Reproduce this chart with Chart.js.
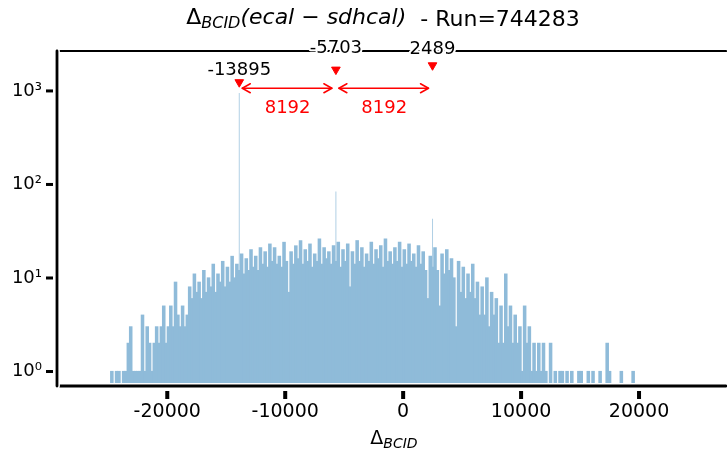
<!DOCTYPE html>
<html><head><meta charset="utf-8">
<script src="https://cdn.jsdelivr.net/npm/chart.js@4.4.0/dist/chart.umd.min.js"></script>
<style>html,body{margin:0;padding:0;background:#fff;overflow:hidden}#wrap{width:727px;height:452px;position:relative}</style>
</head><body><div id="wrap"><canvas id="c" width="727" height="452"></canvas></div>
<script>
// ---- data ----
const BIN_START = -25000;
const BIN_WIDTH = 200;
const counts = [
 0,1,0,1,1,0,1,1,2,3,1,1,1,1,4,1,3,2,1,2,3,2,3,5,2,
 3,5,3,9,4,3,5,3,4,8,6,11,7,9,6,12,7,10,8,14,7,11,9,15,8,
 13,9,17,10,14,12,18,11,16,12,20,13,17,12,21,14,19,13,23,15,21,14,17,13,24,
 15,7,19,14,22,16,25,14,20,15,23,13,18,15,26,14,21,16,19,14,22,15,24,13,20,
 15,23,8,19,14,25,15,21,13,18,15,24,14,20,16,22,13,26,15,19,14,21,15,24,13,
 20,14,23,15,18,13,22,14,19,12,6,17,13,21,12,5,18,11,20,12,16,10,3,15,7,
 13,6,11,7,14,6,9,4,8,4,10,3,7,4,6,2,5,2,11,3,5,2,4,2,3,
 1,5,2,3,1,2,1,2,1,2,1,0,2,0,1,0,1,1,0,1,0,1,0,0,1,
 1,0,0,1,0,1,0,0,1,0,0,2,1,0,0,0,0,1,0,0,0,0,1,0,0
];
const spikeX = [-13895, -5703, 2489];
const spikeCounts = [950, 84, 43];
const markerX = [-13895, -5703, 2489];
const markerY = [1240, 1690, 1880];
const markerLabels = ['-13895', '-5703', '2489'];
const markerLabelY = [1676, 2844, 2805];
const gapLabels = ['8192', '8192'];
const arrowY = 1069;
const gapLabelY = 650;
const xTicks = [-20000, -10000, 0, 10000, 20000];
const yTicks = [1, 10, 100, 1000];
const yTickLabels = ['10\u2070', '10\u00B9', '10\u00B2', '10\u00B3'];
const X_MIN = -29350, X_MAX = 26950, Y_MIN = 0.709, Y_MAX = 2673;

const histData = counts.map((c, i) => ({x: BIN_START + BIN_WIDTH * (i + 0.5), y: c}));
const spikeData = spikeX.map((x, i) => ({x, y: spikeCounts[i]}));
const markerData = markerX.map((x, i) => ({x, y: markerY[i]}));

const FONT = 'DejaVu Sans';

function line(ctx, x1, y1, x2, y2, w) {
  ctx.save();
  ctx.lineCap = 'round';
  ctx.strokeStyle = '#fff'; ctx.lineWidth = w + 3;
  ctx.beginPath(); ctx.moveTo(x1, y1); ctx.lineTo(x2, y2); ctx.stroke();
  ctx.strokeStyle = '#000'; ctx.lineWidth = w;
  ctx.beginPath(); ctx.moveTo(x1, y1); ctx.lineTo(x2, y2); ctx.stroke();
  ctx.restore();
}
function outlinedText(ctx, t, x, y, font, color) {
  ctx.save();
  ctx.font = font; ctx.textAlign = 'center'; ctx.textBaseline = 'middle';
  ctx.lineJoin = 'round'; ctx.strokeStyle = '#fff'; ctx.lineWidth = 4;
  ctx.strokeText(t, x, y);
  ctx.fillStyle = color; ctx.fillText(t, x, y);
  ctx.restore();
}
function richText(ctx, parts, cx) {
  let total = 0;
  parts.forEach(p => { ctx.font = p.font; p.w = ctx.measureText(p.t).width; total += p.w; });
  let x = cx - total / 2;
  ctx.textAlign = 'left'; ctx.textBaseline = 'alphabetic'; ctx.fillStyle = '#000';
  parts.forEach(p => { ctx.font = p.font; ctx.fillText(p.t, x, p.y); x += p.w; });
}
function arrow(ctx, x1, x2, y) {
  ctx.save();
  ctx.strokeStyle = '#ff0000'; ctx.lineWidth = 1.5; ctx.lineCap = 'round'; ctx.lineJoin = 'round';
  ctx.beginPath(); ctx.moveTo(x1, y); ctx.lineTo(x2, y); ctx.stroke();
  const L = 8, H = 4.5;
  ctx.beginPath(); ctx.moveTo(x1 + L, y - H); ctx.lineTo(x1, y); ctx.lineTo(x1 + L, y + H); ctx.stroke();
  ctx.beginPath(); ctx.moveTo(x2 - L, y - H); ctx.lineTo(x2, y); ctx.lineTo(x2 - L, y + H); ctx.stroke();
  ctx.restore();
}

const decor = {
  id: 'decor',
  afterDatasetsDraw(chart) {
    const ctx = chart.ctx, xs = chart.scales.x, ys = chart.scales.y, a = chart.chartArea;
    // spines
    line(ctx, a.left, a.top, a.right + 5, a.top, 2.2);
    line(ctx, a.left, a.bottom, a.right + 5, a.bottom, 2.8);
    line(ctx, a.left, a.top, a.left, a.bottom, 2.8);
    // ticks
    ctx.fillStyle = '#000';
    xTicks.forEach(v => { const p = xs.getPixelForValue(v); ctx.fillRect(p - 2, a.bottom + 5, 4, 8); });
    yTicks.forEach(v => { const p = ys.getPixelForValue(v); ctx.fillRect(a.left - 11, p - 1.5, 7, 3); });
    // title
    richText(ctx, [
      {t: '\u0394', font: `22px ${FONT}`, y: 24},
      {t: 'BCID', font: `italic 16px ${FONT}`, y: 28},
      {t: '(ecal \u2212 sdhcal)', font: `italic 22px ${FONT}`, y: 24},
      {t: '  - Run=744283', font: `22px ${FONT}`, y: 26}
    ], 383);
    // x label
    richText(ctx, [
      {t: '\u0394', font: `19px ${FONT}`, y: 444},
      {t: 'BCID', font: `italic 14px ${FONT}`, y: 448}
    ], 394);
    // arrows and gap labels
    for (let i = 0; i < markerX.length - 1; i++) {
      const p1 = xs.getPixelForValue(markerX[i]), p2 = xs.getPixelForValue(markerX[i + 1]);
      const py = ys.getPixelForValue(arrowY);
      arrow(ctx, p1 + 3, p2 - 4, py);
      outlinedText(ctx, gapLabels[i], xs.getPixelForValue((markerX[i] + markerX[i + 1]) / 2),
        ys.getPixelForValue(gapLabelY), `18px ${FONT}`, '#ff0000');
    }
    // marker labels
    markerX.forEach((x, i) => {
      outlinedText(ctx, markerLabels[i], xs.getPixelForValue(x), ys.getPixelForValue(markerLabelY[i]), `18px ${FONT}`, '#000');
    });
  }
};

new Chart(document.getElementById('c'), {
  type: 'bar',
  data: {
    datasets: [
      {type: 'scatter', data: markerData, xAxisID: 'x', yAxisID: 'y', pointStyle: 'triangle', rotation: 180,
       radius: 5, backgroundColor: '#ff0000', borderColor: '#ff0000', borderWidth: 1, order: 0, clip: false},
      {type: 'bar', data: histData, xAxisID: 'x', yAxisID: 'y', barPercentage: 1, categoryPercentage: 1, grouped: false,
       inflateAmount: 0.6, backgroundColor: '#8fbbd9', borderWidth: 0, order: 1},
      {type: 'bar', data: spikeData, xAxisID: 'x2', yAxisID: 'y', barThickness: 1, grouped: false, inflateAmount: 0,
       backgroundColor: 'rgba(31,119,180,0.35)', borderWidth: 0, order: 2}
    ]
  },
  options: {
    responsive: false, animation: false, events: [],
    layout: {padding: {top: 51, left: 0, right: 0, bottom: 0}},
    plugins: {legend: {display: false}, tooltip: {enabled: false}, title: {display: false}},
    scales: {
      x: {type: 'linear', min: X_MIN, max: X_MAX, offset: false,
          grid: {display: false, drawTicks: false}, border: {display: false},
          afterBuildTicks: s => { s.ticks = xTicks.map(v => ({value: v})); },
          afterFit: s => { s.height = 66; },
          ticks: {autoSkip: false, maxRotation: 0, padding: 15, color: '#000',
                  font: {family: FONT, size: 19}, callback: v => String(v)}},
      x2: {type: 'linear', min: X_MIN, max: X_MAX, offset: false, display: false},
      y: {type: 'logarithmic', min: Y_MIN, max: Y_MAX,
          grid: {display: false, drawTicks: false}, border: {display: false},
          afterBuildTicks: s => { s.ticks = yTicks.map(v => ({value: v})); },
          afterFit: s => { s.width = 57; },
          ticks: {padding: 15, color: '#000', font: {family: FONT, size: 18},
                  callback: (v, i) => yTickLabels[i]}}
    }
  },
  plugins: [decor]
});
</script></body></html>
